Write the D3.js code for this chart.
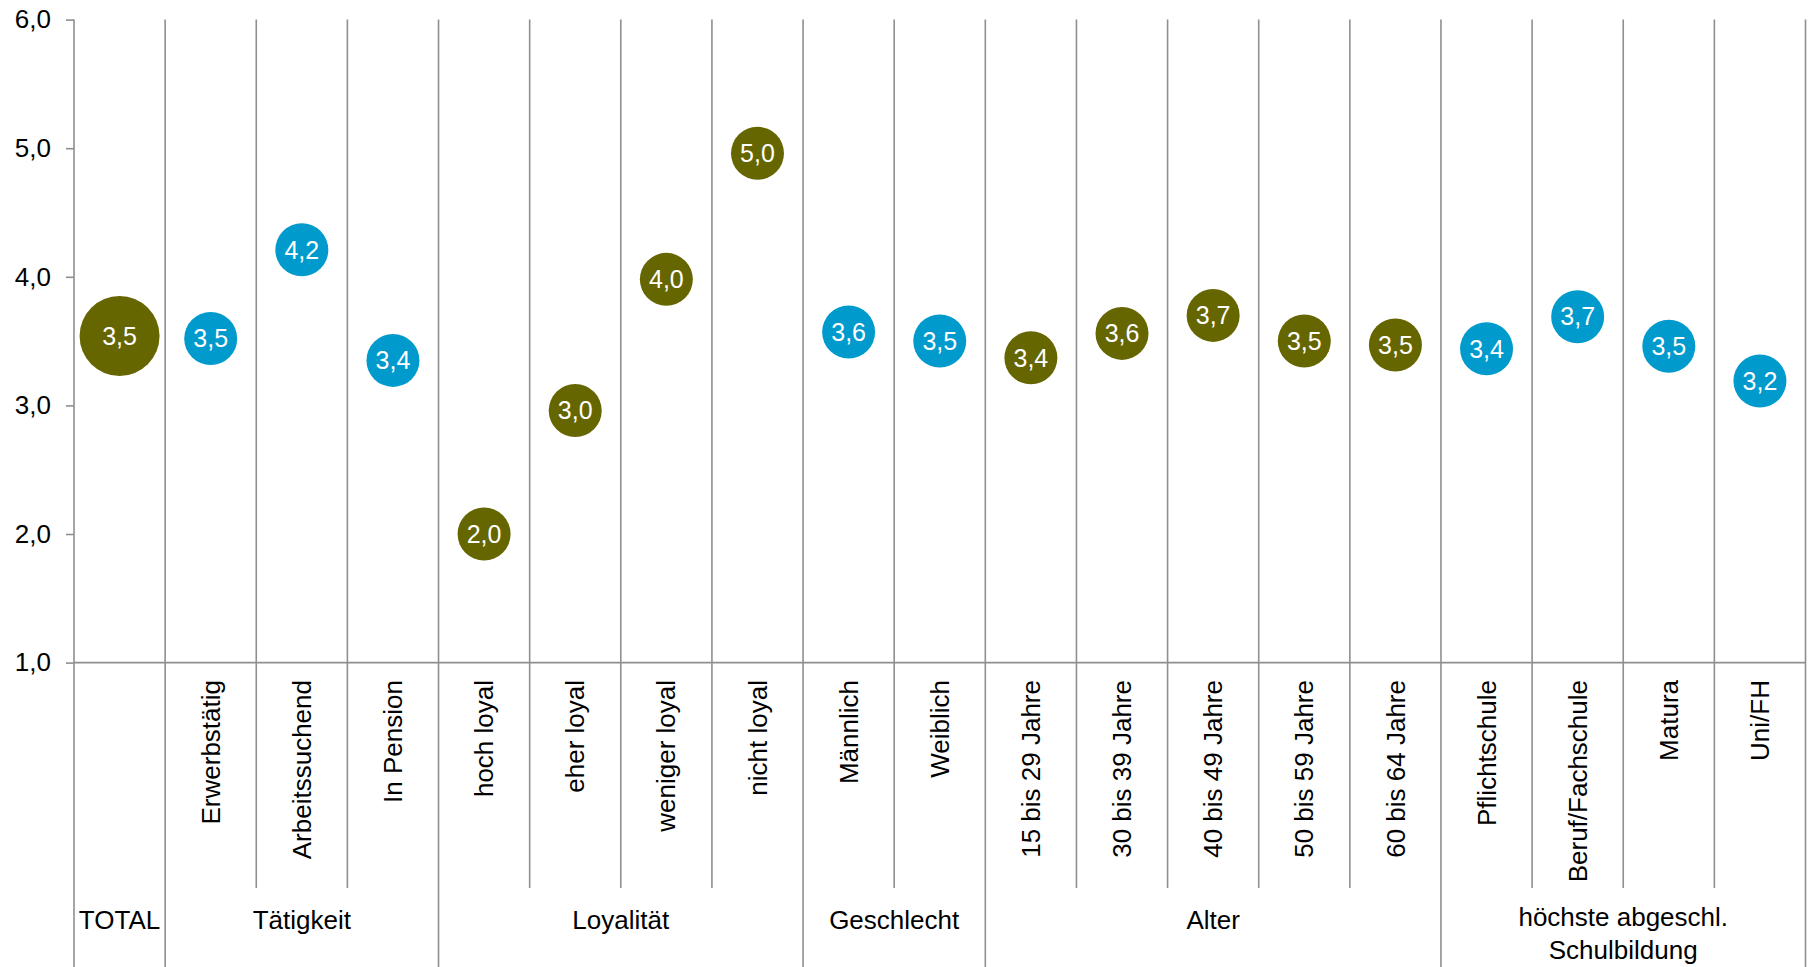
<!DOCTYPE html>
<html lang="de">
<head>
<meta charset="utf-8">
<title>Mittelwerte nach Gruppen</title>
<script src="https://cdn.jsdelivr.net/npm/d3@7"></script>
<style>
  html, body { margin: 0; padding: 0; background: #ffffff; }
  svg { display: block; font-family: "Liberation Sans", Arial, sans-serif; }
</style>
</head>
<body>
<svg id="chart" width="1810" height="967"></svg>
<script>
// Categories in display order
const categories = [
  "TOTAL",
  "Erwerbstätig", "Arbeitssuchend", "In Pension",
  "hoch loyal", "eher loyal", "weniger loyal", "nicht loyal",
  "Männlich", "Weiblich",
  "15 bis 29 Jahre", "30 bis 39 Jahre", "40 bis 49 Jahre", "50 bis 59 Jahre", "60 bis 64 Jahre",
  "Pflichtschule", "Beruf/Fachschule", "Matura", "Uni/FH"
];

// Mean value per category
const values = [
  3.54,
  3.52, 4.21, 3.35,
  2.00, 2.96, 3.98, 4.96,
  3.57, 3.50,
  3.37, 3.56, 3.70, 3.50, 3.47,
  3.44, 3.69, 3.46, 3.19
];

// Category groups (name lines and number of categories)
const groupNames = [
  ["TOTAL"],
  ["Tätigkeit"],
  ["Loyalität"],
  ["Geschlecht"],
  ["Alter"],
  ["höchste abgeschl.", "Schulbildung"]
];
const groupSizes = [1, 3, 4, 2, 5, 4];

// Y axis ticks
const yTicks = [1, 2, 3, 4, 5, 6];

const OLIVE = "#666600";
const BLUE = "#009ACD";
const groupColors = [OLIVE, BLUE, OLIVE, BLUE, OLIVE, BLUE];
const GRID = "#8f8f8f";

const svg = d3.select("#chart");
const W = 1810, H = 967;

const x = d3.scaleBand().domain(categories).range([74, 1805.5]).padding(0);
const y = d3.scaleLinear().domain([1, 6]).range([662.6, 19.6]);

const de = d3.formatLocale({ decimal: ",", thousands: ".", grouping: [3], currency: ["", " €"] });
const fmt = de.format(".1f");

// Group index of every category
const groupIndex = [];
groupSizes.forEach((n, g) => { for (let i = 0; i < n; i++) groupIndex.push(g); });

// Boundaries between categories
const boundaries = [];
let start = 0;
groupSizes.forEach((n, g) => {
  for (let i = 0; i <= n; i++) {
    const idx = start + i;
    const isGroupEdge = (i === 0 || i === n);
    if (i === 0 && g > 0) continue; // shared with previous group's end
    boundaries.push({ idx, group: isGroupEdge });
  }
  start += n;
});

const edgeX = idx => idx < categories.length ? x(categories[idx]) : x.range()[1];

// Vertical separators: category lines stop above group labels, group lines run to bottom
svg.append("g")
  .selectAll("line")
  .data(boundaries)
  .join("line")
  .attr("x1", d => edgeX(d.idx))
  .attr("x2", d => edgeX(d.idx))
  .attr("y1", y(6))
  .attr("y2", d => d.group ? H : 888)
  .attr("stroke", GRID)
  .attr("stroke-width", 1.6);

// Y axis
const yAxis = d3.axisLeft(y)
  .tickValues(yTicks)
  .tickFormat(fmt)
  .tickSize(8)
  .tickPadding(15);

const yg = svg.append("g")
  .attr("transform", `translate(${x.range()[0]},0)`)
  .call(yAxis);
yg.select(".domain").remove();
yg.selectAll(".tick line").attr("stroke", GRID).attr("stroke-width", 1.6);
yg.selectAll(".tick text")
  .attr("fill", "#000")
  .style("font-size", "26px")
  .style("font-family", "'Liberation Sans', Arial, sans-serif");

// Baseline at 1,0
svg.append("line")
  .attr("x1", x.range()[0]).attr("x2", x.range()[1])
  .attr("y1", y(1)).attr("y2", y(1))
  .attr("stroke", GRID)
  .attr("stroke-width", 1.6);

// Category labels, rotated
svg.append("g")
  .selectAll("text")
  .data(categories.slice(1))
  .join("text")
  .attr("transform", d => `translate(${x(d) + x.bandwidth() / 2},680) rotate(-90)`)
  .attr("dy", "0.35em")
  .attr("text-anchor", "end")
  .style("font-size", "26px")
  .attr("fill", "#000")
  .text(d => d);

// Group labels
let gStart = 0;
const groupData = groupSizes.map((n, g) => {
  const x0 = edgeX(gStart), x1 = edgeX(gStart + n);
  gStart += n;
  return { lines: groupNames[g], cx: (x0 + x1) / 2 };
});
const gl = svg.append("g")
  .selectAll("text")
  .data(groupData)
  .join("text")
  .attr("x", d => d.cx)
  .attr("y", d => d.lines.length > 1 ? 926 : 929)
  .attr("text-anchor", "middle")
  .style("font-size", "26px")
  .attr("fill", "#000");
gl.selectAll("tspan")
  .data(d => d.lines.map((t, i) => ({ t, i, cx: d.cx })))
  .join("tspan")
  .attr("x", d => d.cx)
  .attr("dy", d => d.i === 0 ? 0 : 33)
  .text(d => d.t);

// Bubbles
const rows = categories.map((c, i) => ({ c, v: values[i], color: groupColors[groupIndex[i]], total: i === 0 }));
const bubbles = svg.append("g")
  .selectAll("g")
  .data(rows)
  .join("g")
  .attr("transform", d => `translate(${x(d.c) + x.bandwidth() / 2},${y(d.v)})`);

bubbles.append("circle")
  .attr("r", d => d.total ? 40 : 26.5)
  .attr("fill", d => d.color);

bubbles.append("text")
  .attr("text-anchor", "middle")
  .attr("dy", "0.35em")
  .attr("fill", "#fff")
  .style("font-size", "25px")
  .text(d => fmt(d.v));
</script>
</body>
</html>
